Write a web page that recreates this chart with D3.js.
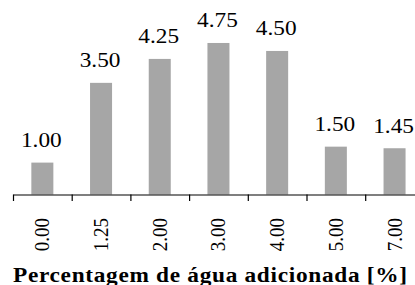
<!DOCTYPE html>
<html lang="en">
<head>
<meta charset="utf-8"/>
<title>Percentagem de água adicionada</title>
<script src="https://d3js.org/d3.v7.min.js"></script>
<style>
  body { margin: 0; background: #fff; }
  text { font-family: "Liberation Serif", "Times New Roman", serif; fill: #000; }
</style>
</head>
<body>
<script>
// values
const categories = ["0.00", "1.25", "2.00", "3.00", "4.00", "5.00", "7.00"]
const values     = [1.00, 3.50, 4.25, 4.75, 4.50, 1.50, 1.45]
const valueLabels = ["1.00", "3.50", "4.25", "4.75", "4.50", "1.50", "1.45"]
const xTitle = "Percentagem de água adicionada [%]"

const width = 415
const height = 285
const stretch = 1.11   // the original text looks a bit wider than normal

const svg = d3.select("body").append("svg")
  .attr("width", width)
  .attr("height", height)

const left = 13, step = 58.7, base = 194.5
const x = d3.scaleBand()
  .domain(categories)
  .range([left, left + step * categories.length])
  .paddingInner(0.625)
  .paddingOuter(0.3125)

// boundaries between categories, used for the tick marks
const xb = d3.scaleLinear()
  .domain([0, categories.length])
  .range([left, left + step * categories.length])

const y = d3.scaleLinear().domain([0, 6]).range([base, base - 6 * 31.9])

svg.selectAll("rect.bar")
  .data(values)
  .join("rect")
  .attr("class", "bar")
  .attr("x", (d, i) => x(categories[i]))
  .attr("width", x.bandwidth())
  .attr("y", d => y(d))
  .attr("height", d => y(0) - y(d))
  .attr("fill", "#a6a6a6")

// value labels above bars
svg.selectAll("text.val")
  .data(values)
  .join("text")
  .attr("class", "val")
  .attr("text-anchor", "middle")
  .attr("font-size", 21)
  .attr("transform", (d, i) =>
    `translate(${x(categories[i]) + x.bandwidth() / 2 - 1},${y(d) - 15.5}) scale(${stretch},1)`)
  .text((d, i) => valueLabels[i])

// axis with ticks at category boundaries
const axis = d3.axisBottom(xb)
  .tickValues(d3.range(categories.length + 1))
  .tickFormat("")
  .tickSizeInner(6.5)
  .tickSizeOuter(0)

const gx = svg.append("g")
  .attr("transform", `translate(0,${base})`)
  .call(axis)
gx.select(".domain").attr("stroke", "#000").attr("stroke-width", 1.2)
gx.selectAll(".tick line").attr("stroke", "#000").attr("stroke-width", 1.2)

// rotated category labels
svg.selectAll("text.cat")
  .data(categories)
  .join("text")
  .attr("class", "cat")
  .attr("text-anchor", "end")
  .attr("font-size", 19)
  .attr("transform", d =>
    `translate(${x(d) + x.bandwidth() / 2 + 7},${218}) rotate(-90) scale(1,${stretch})`)
  .text(d => d)

svg.append("text")
  .attr("x", 13 / stretch)
  .attr("font-size", 21)
  .attr("font-weight", "bold")
  .attr("textLength", 394 / stretch)
  .attr("lengthAdjust", "spacing")
  .attr("transform", `translate(0,282) scale(${stretch},1)`)
  .text(xTitle)
</script>
</body>
</html>
